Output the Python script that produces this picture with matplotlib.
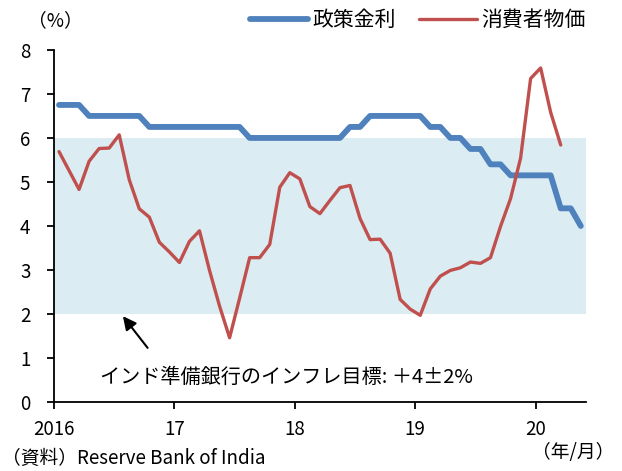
import numpy as np
import matplotlib
matplotlib.use("Agg")
import matplotlib.pyplot as plt

plt.rcParams['font.family'] = ['Noto Sans CJK JP', 'DejaVu Sans']

# monthly, Jan 2016 -> May 2020
policy_rate = [6.75, 6.75, 6.75, 6.5, 6.5, 6.5, 6.5, 6.5, 6.5,
               6.25, 6.25, 6.25, 6.25, 6.25, 6.25, 6.25, 6.25, 6.25, 6.25,
               6.0, 6.0, 6.0, 6.0, 6.0, 6.0, 6.0, 6.0, 6.0, 6.0,
               6.25, 6.25, 6.5, 6.5, 6.5, 6.5, 6.5, 6.5,
               6.25, 6.25, 6.0, 6.0, 5.75, 5.75, 5.4, 5.4,
               5.15, 5.15, 5.15, 5.15, 5.15, 4.4, 4.4, 4.0]
# monthly, Jan 2016 -> Mar 2020
cpi = [5.69, 5.26, 4.83, 5.47, 5.76, 5.77, 6.07, 5.05, 4.39, 4.20, 3.63, 3.41,
       3.17, 3.65, 3.89, 2.99, 2.18, 1.46, 2.36, 3.28, 3.28, 3.58, 4.88, 5.21,
       5.07, 4.44, 4.28, 4.58, 4.87, 4.92, 4.17, 3.69, 3.70, 3.38, 2.33, 2.11,
       1.97, 2.57, 2.86, 2.99, 3.05, 3.18, 3.15, 3.28, 3.99, 4.62, 5.54, 7.35,
       7.59, 6.58, 5.84]
year_labels = ['2016', '17', '18', '19', '20']
target_band = (2, 6)

n_months = len(policy_rate)
x_rate = np.arange(len(policy_rate)) + 0.5
x_cpi = np.arange(len(cpi)) + 0.5

fig = plt.figure(figsize=(6.22, 4.71), dpi=100)
ax = fig.add_axes([0.0868, 0.1465, 0.855, 0.7475])

ax.axhspan(target_band[0], target_band[1], xmin=0, xmax=1, color='#dbedf3', lw=0, zorder=0)
l1, = ax.plot(x_rate, policy_rate, color='#4f81bd', lw=4.2, solid_capstyle='round', zorder=3)
l2, = ax.plot(x_cpi, cpi, color='#c0504d', lw=2.4, solid_capstyle='round', zorder=4)

ax.set_xlim(0, n_months)
ax.set_ylim(0, 8)
ax.set_yticks(range(0, 9))
ax.set_xticks(np.arange(0, n_months, 12))
ax.set_xticklabels(year_labels)
for s in ['top', 'right']:
    ax.spines[s].set_visible(False)
for s in ['left', 'bottom']:
    ax.spines[s].set_linewidth(1.3)
ax.tick_params(axis='both', direction='out', length=5, width=1.3, labelsize=13.5)
ax.tick_params(axis='y', pad=12)
ax.tick_params(axis='x', pad=7)

ax.annotate('', xy=(6.7, 2.0), xytext=(9.5, 1.18),
            arrowprops=dict(arrowstyle='-|>', color='black', lw=1.5, mutation_scale=20))
ax.text(4.6, 0.56, 'インド準備銀行のインフレ目標: ＋4±2%', fontsize=14.5, va='center', ha='left')

fig.text(0.045, 0.955, '（%）', fontsize=13.5, va='center', ha='left')
fig.text(0.003, 0.027, '（資料）Reserve Bank of India', fontsize=13.5, va='center', ha='left')
fig.text(0.855, 0.04, '（年/月）', fontsize=13.5, va='center', ha='left')

fig.legend([l1, l2], ['政策金利', '消費者物価'], loc='center right', bbox_to_anchor=(0.955, 0.957),
           ncol=2, frameon=False, fontsize=15, handlelength=2.8, handletextpad=0.2,
           columnspacing=1.1, borderaxespad=0)

fig.savefig('out.png', dpi=100)
